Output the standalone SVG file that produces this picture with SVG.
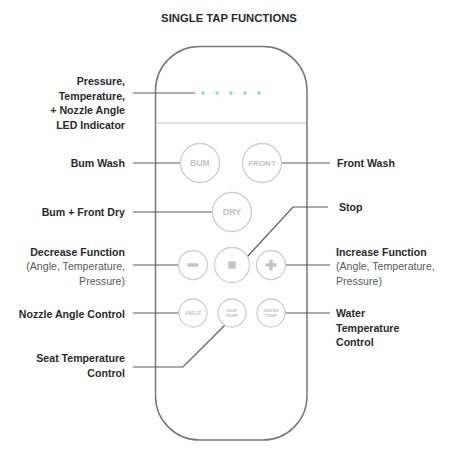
<svg xmlns="http://www.w3.org/2000/svg" width="457" height="471" viewBox="0 0 457 471">
<style>
text{font-family:"Liberation Sans",Arial,sans-serif}
.lbl{font-size:10.6px;font-weight:bold;fill:#2a2a2e}
.sub{font-size:10.6px;fill:#5a5a5e}
.btn{fill:#fff;stroke:#cfcfcf;stroke-width:1.3}
.bt{font-weight:bold;fill:#c4c4c4;text-anchor:middle}
.con{stroke:#5a5a5a;stroke-width:1.2;fill:none}
.led{fill:#7fdccd}
</style>
<rect width="457" height="471" fill="#fff"/>
<text x="229" y="21.5" text-anchor="middle" style="font-size:11.3px;font-weight:bold;fill:#2a2a30">SINGLE TAP FUNCTIONS</text>
<g id="remote">
<rect x="155.5" y="46.5" width="151.5" height="393.5" rx="44" ry="44" fill="#fff" stroke="#777" stroke-width="1.5"/>
<line x1="156.5" y1="123" x2="306" y2="123" stroke="#d6d6d6" stroke-width="1.3"/>
</g>
<g id="leds">
<circle class="led" cx="203" cy="93" r="1.7"/>
<circle class="led" cx="217" cy="93" r="1.7"/>
<circle class="led" cx="231" cy="93" r="1.7"/>
<circle class="led" cx="245" cy="93" r="1.7"/>
<circle class="led" cx="259" cy="93" r="1.7"/>
</g>
<g id="connectors">
<line class="con" x1="133" y1="93" x2="195" y2="93"/>
<line class="con" x1="133" y1="163" x2="181" y2="163"/>
<line class="con" x1="282" y1="163" x2="330" y2="163"/>
<line class="con" x1="133" y1="212" x2="213" y2="212"/>
<polyline class="con" points="247,257 293,207 328,207"/>
<line class="con" x1="133" y1="265" x2="179" y2="265"/>
<line class="con" x1="286" y1="265" x2="330" y2="265"/>
<line class="con" x1="133" y1="313" x2="179" y2="313"/>
<line class="con" x1="285" y1="313" x2="330" y2="313"/>
<polyline class="con" points="228,322 183,367 133,367"/>
</g>
<g id="btn-bum"><circle class="btn" cx="200" cy="163" r="19.5"/><text class="bt" x="200" y="166" style="font-size:8.5px">BUM</text></g>
<g id="btn-front"><circle class="btn" cx="262" cy="163" r="19.5"/><text class="bt" x="262" y="166" style="font-size:8px">FRONT</text></g>
<g id="btn-dry"><circle class="btn" cx="232" cy="212" r="19.5"/><text class="bt" x="232" y="215.3" style="font-size:9px">DRY</text></g>
<g id="btn-minus"><circle class="btn" cx="193" cy="265" r="14.5"/><rect x="187.5" y="263.3" width="11" height="3.4" rx="1.2" fill="#c4c4c4"/></g>
<g id="btn-stop"><circle class="btn" cx="232" cy="265" r="17.5"/><rect x="228.3" y="261.3" width="7.4" height="7.4" fill="#c4c4c4"/></g>
<g id="btn-plus"><circle class="btn" cx="271" cy="265" r="14.5"/><rect x="265.5" y="263.3" width="11" height="3.4" rx="1" fill="#c4c4c4"/><rect x="269.3" y="259.5" width="3.4" height="11" rx="1" fill="#c4c4c4"/></g>
<g id="btn-angle"><circle class="btn" cx="193" cy="313" r="14"/><text class="bt" x="193" y="314.8" style="font-size:4.6px">ANGLE</text></g>
<g id="btn-seat"><circle class="btn" cx="232" cy="313" r="14"/><text class="bt" x="232" y="311.8" style="font-size:4.4px">SEAT</text><text class="bt" x="232" y="317.3" style="font-size:4.4px">TEMP</text></g>
<g id="btn-water"><circle class="btn" cx="271" cy="313" r="14"/><text class="bt" x="271" y="311.8" style="font-size:4.4px">WATER</text><text class="bt" x="271" y="317.3" style="font-size:4.4px">TEMP</text></g>
<g id="labels-left" text-anchor="end">
<text class="lbl" x="125" y="85">Pressure,</text>
<text class="lbl" x="125" y="99.5">Temperature,</text>
<text class="lbl" x="125" y="114">+ Nozzle Angle</text>
<text class="lbl" x="125" y="128.5">LED Indicator</text>
<text class="lbl" x="125" y="167">Bum Wash</text>
<text class="lbl" x="125" y="216">Bum + Front Dry</text>
<text class="lbl" x="125" y="255.5">Decrease Function</text>
<text class="sub" x="125" y="270">(Angle, Temperature,</text>
<text class="sub" x="125" y="284.5">Pressure)</text>
<text class="lbl" x="125" y="317.5">Nozzle Angle Control</text>
<text class="lbl" x="125" y="362">Seat Temperature</text>
<text class="lbl" x="125" y="376.5">Control</text>
</g>
<g id="labels-right">
<text class="lbl" x="337" y="167">Front Wash</text>
<text class="lbl" x="339" y="211">Stop</text>
<text class="lbl" x="336" y="255.5">Increase Function</text>
<text class="sub" x="336" y="270">(Angle, Temperature,</text>
<text class="sub" x="336" y="284.5">Pressure)</text>
<text class="lbl" x="336" y="317">Water</text>
<text class="lbl" x="336" y="331.5">Temperature</text>
<text class="lbl" x="336" y="346">Control</text>
</g>
</svg>
